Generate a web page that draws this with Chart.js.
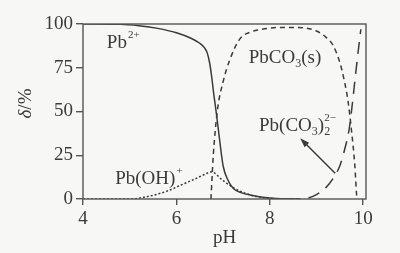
<!DOCTYPE html>
<html>
<head>
<meta charset="utf-8">
<script src="https://cdn.jsdelivr.net/npm/chart.js@4"></script>
<style>
  html, body { margin: 0; padding: 0; background: #f7f7f5; }
  #wrap { width: 400px; height: 253px; }
</style>
</head>
<body>
<div id="wrap"><canvas id="c" width="400" height="253"></canvas></div>
<script>
// distribution of lead species vs pH
const pb2pH  = [4, 4.8, 5.2, 5.6, 6.0, 6.3, 6.5, 6.6, 6.66, 6.71, 6.75, 6.8, 6.86, 6.92, 7.0, 7.1, 7.22, 7.4, 7.6, 8.0, 8.5];
const pb2Val = [100, 99.8, 99, 97.5, 95, 92, 89, 86.5, 83.5, 78, 71, 60, 48, 35, 19, 11, 6, 3.5, 2.2, 0.6, 0];

const pbohpH  = [4, 5.0, 5.4, 5.8, 6.1, 6.4, 6.6, 6.75, 7.0, 7.22, 7.5, 7.8, 8.2];
const pbohVal = [0, 0, 1.5, 4.5, 8, 11.5, 14, 15.5, 10.5, 6.5, 3, 1, 0];

const pbco3pH  = [6.74, 6.79, 6.88, 7.0, 7.15, 7.36, 7.6, 7.8, 8.2, 8.6, 9.0, 9.2, 9.35, 9.5, 9.6, 9.68, 9.75, 9.82, 9.86, 9.87];
const pbco3Val = [0, 25, 51, 67, 80, 91.5, 95.5, 96.8, 98, 98, 96, 92.5, 88, 78, 67, 55, 39, 19.4, 2, 0];

const pbco32pH  = [8.4, 8.8, 9.0, 9.2, 9.36, 9.5, 9.6, 9.7, 9.77, 9.84, 9.9, 9.95];
const pbco32Val = [0, 0.5, 2.5, 6.5, 12, 19, 28, 40, 55, 72, 86, 97];

const xTicks = [4, 6, 8, 10];
const yTicks = [0, 25, 50, 75, 100];

// species labels: text parts, anchor pH, anchor value
const labelParts = [
  [['Pb', 0], ['2+', 1]],
  [['Pb(OH)', 0], ['+', 1]],
  [['PbCO', 0], ['3', -1], ['(s)', 0]],
  [['Pb(CO', 0], ['3', -1], [')', 0], ['2', -1, '2\u2212']]
];
const labelX = [4.51, 4.69, 7.55, 7.77];
const labelY = [86.3, 8.6, 77.5, 39];

// arrow pointing at Pb(CO3)2 2- curve
const arrowFrom = [9.4, 14.7];
const arrowTo = [8.65, 34.7];

const ink = '#3a3a3a';
const serif = '"Liberation Serif", "DejaVu Serif", serif';

function pts(xs, ys) {
  return xs.map((x, i) => ({ x: x, y: ys[i] }));
}

function drawRich(ctx, parts, x, y) {
  let cx = x;
  parts.forEach(p => {
    if (p[1] === 0) {
      ctx.font = '19px ' + serif;
      ctx.fillText(p[0], cx, y);
      cx += ctx.measureText(p[0]).width;
    } else if (p[1] === 1) {
      ctx.font = '11px ' + serif;
      ctx.fillText(p[0], cx + 1, y - 10);
      cx += ctx.measureText(p[0]).width + 1;
    } else {
      ctx.font = '12px ' + serif;
      ctx.fillText(p[0], cx, y + 4);
      let w = ctx.measureText(p[0]).width;
      if (p[2]) {
        ctx.font = '11px ' + serif;
        ctx.fillText(p[2], cx, y - 10);
        w = Math.max(w, ctx.measureText(p[2]).width);
      }
      cx += w;
    }
  });
}

const extras = {
  id: 'extras',
  afterDatasetsDraw(chart) {
    const ctx = chart.ctx;
    const a = chart.chartArea;
    const xs = chart.scales.x, ys = chart.scales.y;
    ctx.save();
    ctx.strokeStyle = '#555';
    ctx.lineWidth = 1.4;
    ctx.strokeRect(a.left, a.top, a.right - a.left, a.bottom - a.top);

    ctx.fillStyle = ink;
    ctx.textBaseline = 'alphabetic';
    ctx.textAlign = 'left';
    labelParts.forEach((parts, i) => {
      drawRich(ctx, parts, xs.getPixelForValue(labelX[i]), ys.getPixelForValue(labelY[i]));
    });

    // arrow
    const x1 = xs.getPixelForValue(arrowFrom[0]), y1 = ys.getPixelForValue(arrowFrom[1]);
    const x2 = xs.getPixelForValue(arrowTo[0]), y2 = ys.getPixelForValue(arrowTo[1]);
    const ang = Math.atan2(y2 - y1, x2 - x1);
    ctx.strokeStyle = ink;
    ctx.lineWidth = 1.5;
    ctx.beginPath();
    ctx.moveTo(x1, y1);
    ctx.lineTo(x2 - 6 * Math.cos(ang), y2 - 6 * Math.sin(ang));
    ctx.stroke();
    ctx.beginPath();
    ctx.moveTo(x2, y2);
    ctx.lineTo(x2 - 10 * Math.cos(ang - 0.32), y2 - 10 * Math.sin(ang - 0.32));
    ctx.lineTo(x2 - 10 * Math.cos(ang + 0.32), y2 - 10 * Math.sin(ang + 0.32));
    ctx.closePath();
    ctx.fill();

    // y axis title: δ/%
    ctx.translate(26, (a.top + a.bottom) / 2 - 8);
    ctx.rotate(-Math.PI / 2);
    ctx.textBaseline = 'middle';
    ctx.font = 'italic 19px ' + serif;
    const w1 = ctx.measureText('\u03b4').width;
    ctx.font = '19px ' + serif;
    const w2 = ctx.measureText('/%').width;
    ctx.font = 'italic 19px ' + serif;
    ctx.fillText('\u03b4', -(w1 + w2) / 2, 0);
    ctx.font = '19px ' + serif;
    ctx.fillText('/%', -(w1 + w2) / 2 + w1, 0);
    ctx.restore();
  }
};

const common = { pointRadius: 0, borderColor: ink, borderWidth: 1.5, fill: false, cubicInterpolationMode: 'monotone' };

new Chart(document.getElementById('c'), {
  type: 'line',
  data: {
    datasets: [
      Object.assign({ label: 'Pb2+', data: pts(pb2pH, pb2Val) }, common),
      Object.assign({ label: 'Pb(OH)+', data: pts(pbohpH, pbohVal), borderDash: [2, 2] }, common),
      Object.assign({ label: 'PbCO3(s)', data: pts(pbco3pH, pbco3Val), borderDash: [5, 4] }, common),
      Object.assign({ label: 'Pb(CO3)2 2-', data: pts(pbco32pH, pbco32Val), borderDash: [12, 8] }, common)
    ]
  },
  options: {
    responsive: false,
    animation: false,
    layout: { padding: { left: 0, top: 24, right: 34, bottom: 0 } },
    plugins: { legend: { display: false }, tooltip: { enabled: false } },
    scales: {
      x: {
        type: 'linear', min: 4, max: 10.06,
        afterBuildTicks: axis => { axis.ticks = xTicks.map(v => ({ value: v })); },
        afterFit: s => { s.height = 54; },
        border: { display: false },
        grid: { drawOnChartArea: false, drawTicks: true, tickLength: 6, color: '#555', lineWidth: 1.4 },
        ticks: { color: ink, padding: 3, font: { family: serif, size: 19 }, maxRotation: 0 },
        title: { display: true, text: 'pH', color: ink, font: { family: serif, size: 19 }, padding: { top: 0 } }
      },
      y: {
        min: 0, max: 100,
        afterBuildTicks: axis => { axis.ticks = yTicks.map(v => ({ value: v })); },
        afterFit: s => { s.width = 83; },
        border: { display: false },
        grid: { drawOnChartArea: false, drawTicks: true, tickLength: 7, color: '#555', lineWidth: 1.4 },
        ticks: { color: ink, padding: 3, font: { family: serif, size: 19 } }
      }
    }
  },
  plugins: [extras]
});
</script>
</body>
</html>
